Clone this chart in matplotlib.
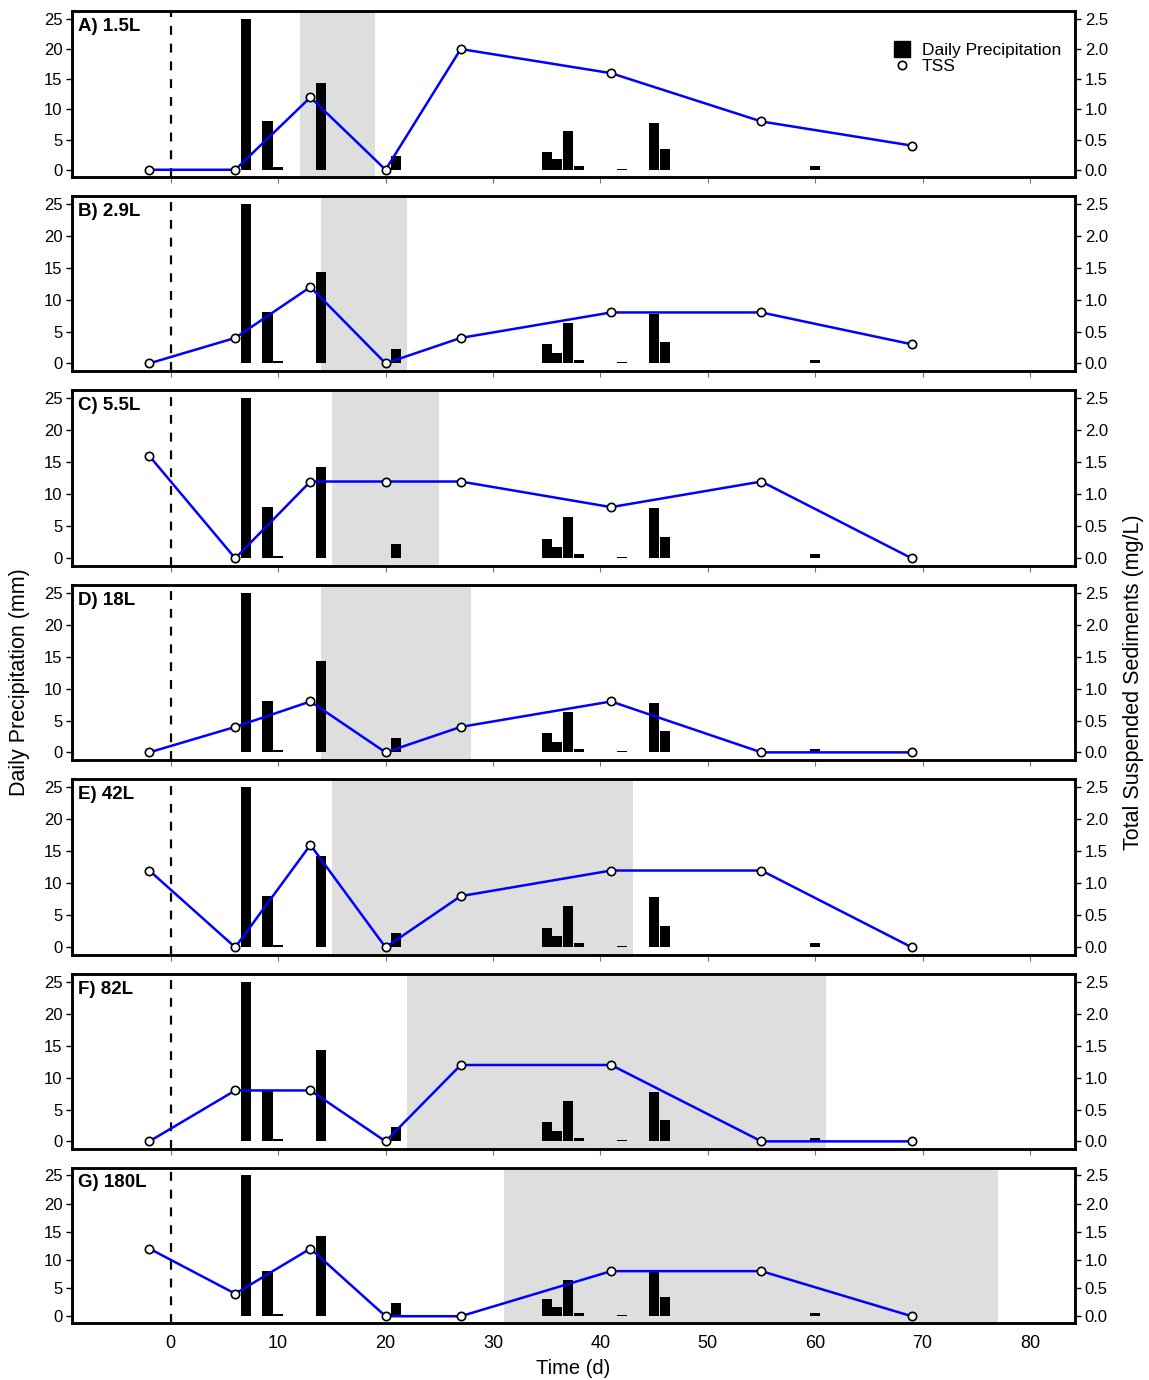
import matplotlib.pyplot as plt
from matplotlib.lines import Line2D
import numpy as np

plt.rcParams['font.family'] = ['Liberation Sans', 'DejaVu Sans']

# daily precipitation (mm)
rain_day = [7, 9, 10, 14, 21, 35, 36, 37, 38, 42, 45, 46, 60]
rain_mm = [25.0, 8.0, 0.4, 14.3, 2.3, 3.0, 1.7, 6.4, 0.6, 0.15, 7.8, 3.4, 0.6]

# TSS sampling days and values (mg/L) per volume
tss_day = [-2, 6, 13, 20, 27, 41, 55, 69]
panel_labels = ['A) 1.5L', 'B) 2.9L', 'C) 5.5L', 'D) 18L', 'E) 42L', 'F) 82L', 'G) 180L']
tss_A = [0.0, 0.0, 1.2, 0.0, 2.0, 1.6, 0.8, 0.4]
tss_B = [0.0, 0.4, 1.2, 0.0, 0.4, 0.8, 0.8, 0.3]
tss_C = [1.6, 0.0, 1.2, 1.2, 1.2, 0.8, 1.2, 0.0]
tss_D = [0.0, 0.4, 0.8, 0.0, 0.4, 0.8, 0.0, 0.0]
tss_E = [1.2, 0.0, 1.6, 0.0, 0.8, 1.2, 1.2, 0.0]
tss_F = [0.0, 0.8, 0.8, 0.0, 1.2, 1.2, 0.0, 0.0]
tss_G = [1.2, 0.4, 1.2, 0.0, 0.0, 0.8, 0.8, 0.0]
tss_all = [tss_A, tss_B, tss_C, tss_D, tss_E, tss_F, tss_G]

# shaded period (start, end) in days
shade = [(12, 19), (14, 22), (15, 25), (14, 28), (15, 43), (22, 61), (31, 77)]

W, H = 1149, 1380
fig = plt.figure(figsize=(W / 100, H / 100), dpi=100)

# panel pixel extents (top, bottom)
boxes = [(11, 177), (196, 371), (390, 566), (585, 760), (779, 955), (974, 1149), (1168, 1323)]
left, right = 72, 1075

for i, (top, bot) in enumerate(boxes):
    ax = fig.add_axes([left / W, 1 - bot / H, (right - left) / W, (bot - top) / H])
    ax.axvspan(shade[i][0], shade[i][1], color='#dedede', lw=0, zorder=0)
    ax.axvline(0, color='black', ls=(0, (4, 4)), lw=1.6, zorder=1)
    ax.bar(rain_day, rain_mm, width=0.95, color='black', zorder=2)
    ax.set_xlim(-9.2, 84.2)
    ax.set_ylim(-1.2, 26.3)
    ax.set_yticks([0, 5, 10, 15, 20, 25])
    ax.set_xticks(np.arange(0, 90, 10))
    ax.tick_params(axis='y', labelsize=12, length=4, width=1, pad=3)
    for s in ax.spines.values():
        s.set_linewidth(1.8)

    ax2 = ax.twinx()
    ax2.plot(tss_day, tss_all[i], color='#0000ff', lw=1.8, marker='o', ms=6,
             mfc='white', mec='black', mew=1.2, zorder=3)
    ax2.set_ylim(-0.12, 2.63)
    ax2.set_yticks([0, 0.5, 1.0, 1.5, 2.0, 2.5])
    ax2.set_yticklabels(['0.0', '0.5', '1.0', '1.5', '2.0', '2.5'])
    ax2.tick_params(axis='y', labelsize=12, length=4, width=1, pad=3)
    for s in ax2.spines.values():
        s.set_linewidth(1.8)

    ax.text(0.006, 0.96, panel_labels[i], transform=ax.transAxes, ha='left', va='top',
            fontsize=13.5, fontweight='bold')

    if i < len(boxes) - 1:
        ax.tick_params(axis='x', labelbottom=False, length=4, width=0.8, color='0.45', pad=2)
    else:
        ax.tick_params(axis='x', labelsize=13, length=0, pad=9)
        ax.set_xlabel('Time (d)', fontsize=14.5, labelpad=5)

    if i == 0:
        sq = Line2D([], [], ls='none', marker='s', ms=12, color='black')
        circ = Line2D([], [], ls='none', marker='o', ms=6, mfc='white', mec='black', mew=1.2)
        ax2.legend([sq, circ], ['Daily Precipitation', 'TSS'], loc='upper right',
                   bbox_to_anchor=(0.998, 0.88), frameon=False, fontsize=12.5,
                   handlelength=1.0, handletextpad=0.6, labelspacing=0.05, borderpad=0.2)

fig.text(20 / W, 1 - 682 / H, 'Daily Precipitation (mm)', rotation=90, ha='center', va='center', fontsize=15.5)
fig.text(1133 / W, 1 - 682 / H, 'Total Suspended Sediments (mg/L)', rotation=90, ha='center', va='center', fontsize=15.5)

fig.savefig('out.png', dpi=100)
